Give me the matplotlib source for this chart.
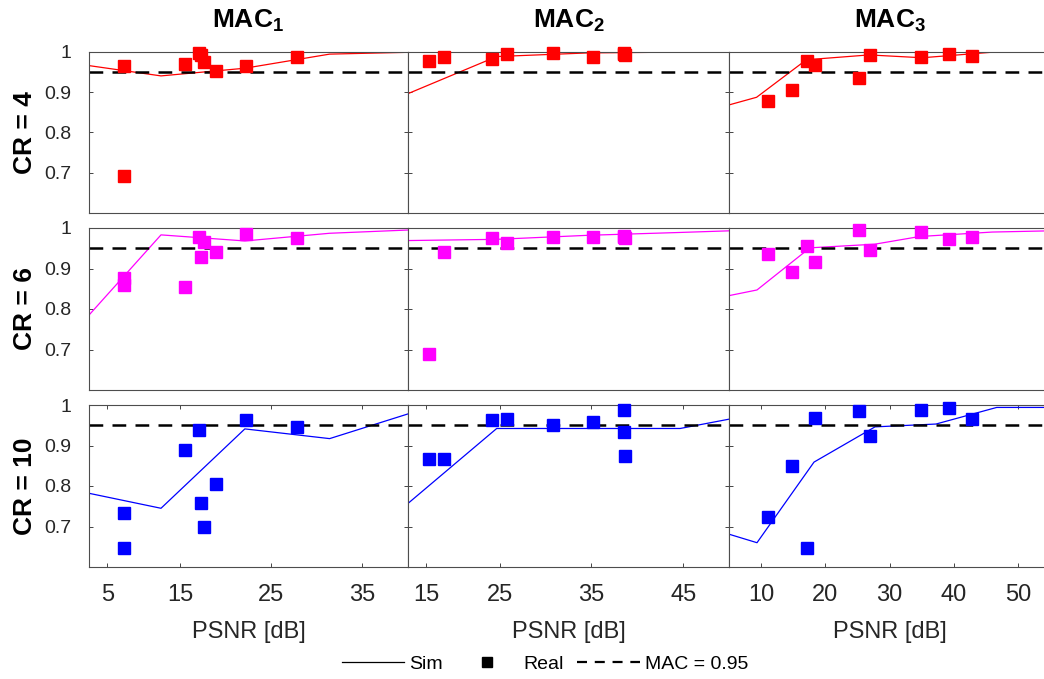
import numpy as np
import matplotlib
matplotlib.use('Agg')
import matplotlib.pyplot as plt
from matplotlib.lines import Line2D

plt.rcParams['font.family'] = ['Liberation Sans', 'DejaVu Sans']
plt.rcParams['mathtext.fontset'] = 'custom'
plt.rcParams['mathtext.rm'] = 'Liberation Sans'
plt.rcParams['mathtext.bf'] = 'Liberation Sans:bold'

# --- data ---
mac_titles = [r'$\mathbf{MAC_1}$', r'$\mathbf{MAC_2}$', r'$\mathbf{MAC_3}$']
cr_labels = ['CR = 4', 'CR = 6', 'CR = 10']
row_colors = ['#ff0000', '#ff00ff', '#0000ff']

xlims = [(5, 40), (15, 50), (5, 55)]
xtick_pos = [[7, 15, 25, 35], [17, 25, 35, 45], [10, 20, 30, 40, 50]]
xtick_lab = [['5', '15', '25', '35'], ['15', '25', '35', '45'],
             ['10', '20', '30', '40', '50']]

# simulated curves
sim_x_mac1 = [5, 12.9, 22.1, 31.4, 40]
sim_cr4_mac1 = [0.9655, 0.940, 0.959, 0.994, 0.9985]
sim_cr6_mac1 = [0.785, 0.983, 0.968, 0.987, 0.995]
sim_cr10_mac1 = [0.782, 0.745, 0.941, 0.917, 0.978]

sim_x_mac2 = [15, 24.67, 34.67, 44.67, 50]
sim_cr4_mac2 = [0.896, 0.988, 0.997, 0.999, 0.999]
sim_cr6_mac2 = [0.969, 0.972, 0.982, 0.989, 0.993]
sim_cr10_mac2 = [0.757, 0.942, 0.942, 0.942, 0.965]

sim_x_cr4_mac3 = [5, 9.3, 17.05, 26.8, 35.1, 46.2, 55]
sim_x_cr6_mac3 = [5, 9.36, 17.6, 27.7, 34.7, 46.0, 55]
sim_x_cr10_mac3 = [5, 9.36, 18.24, 27.74, 37.24, 46.7, 55]
sim_cr4_mac3 = [0.868, 0.887, 0.980, 0.992, 0.985, 0.999, 1.0]
sim_cr6_mac3 = [0.833, 0.847, 0.951, 0.960, 0.979, 0.990, 0.993]
sim_cr10_mac3 = [0.681, 0.660, 0.859, 0.946, 0.953, 0.994, 0.994]

# measured points
real_x_mac1 = [8.84, 8.84, 15.54, 17.07, 17.3, 17.6, 18.9, 22.2, 27.8]
real_cr4_mac1 = [0.965, 0.692, 0.970, 0.996, 0.993, 0.975, 0.952, 0.965, 0.988]
real_cr6_mac1 = [0.877, 0.859, 0.854, 0.979, 0.929, 0.966, 0.940, 0.984, 0.975]
real_cr10_mac1 = [0.733, 0.646, 0.889, 0.938, 0.759, 0.698, 0.805, 0.963, 0.946]

real_x_mac2 = [17.3, 18.9, 24.2, 25.8, 30.85, 35.2, 38.5, 38.6, 38.7]
real_cr4_mac2 = [0.976, 0.988, 0.983, 0.994, 0.998, 0.986, 0.998, 0.994, 0.992]
real_cr6_mac2 = [0.689, 0.941, 0.975, 0.964, 0.977, 0.979, 0.981, 0.978, 0.975]
real_cr10_mac2 = [0.866, 0.867, 0.963, 0.966, 0.951, 0.959, 0.988, 0.934, 0.875]

real_x_mac3 = [11.0, 14.77, 17.1, 18.4, 25.3, 27.0, 34.9, 39.2, 42.8]
real_cr4_mac3 = [0.877, 0.904, 0.977, 0.967, 0.936, 0.992, 0.986, 0.994, 0.989]
real_cr6_mac3 = [0.935, 0.891, 0.956, 0.917, 0.995, 0.946, 0.989, 0.972, 0.979]
real_cr10_mac3 = [0.724, 0.849, 0.648, 0.967, 0.986, 0.923, 0.988, 0.992, 0.965]

mac_threshold = 0.95

sim_x = [[sim_x_mac1] * 3, [sim_x_mac2] * 3,
         [sim_x_cr4_mac3, sim_x_cr6_mac3, sim_x_cr10_mac3]]
sim_y = [[sim_cr4_mac1, sim_cr6_mac1, sim_cr10_mac1],
         [sim_cr4_mac2, sim_cr6_mac2, sim_cr10_mac2],
         [sim_cr4_mac3, sim_cr6_mac3, sim_cr10_mac3]]
real_x = [real_x_mac1, real_x_mac2, real_x_mac3]
real_y = [[real_cr4_mac1, real_cr6_mac1, real_cr10_mac1],
          [real_cr4_mac2, real_cr6_mac2, real_cr10_mac2],
          [real_cr4_mac3, real_cr6_mac3, real_cr10_mac3]]

# --- layout in pixels ---
W, H = 1044, 679
col_px = [(89, 408), (408, 729), (729, 1050)]
row_px = [(51.7, 213), (228, 390), (405, 567)]

fig = plt.figure(figsize=(W / 100, H / 100), dpi=100)
grey = '0.15'

for r in range(3):
    for c in range(3):
        x0, x1 = col_px[c]
        y0, y1 = row_px[r]
        ax = fig.add_axes([x0 / W, 1 - y1 / H, (x1 - x0) / W, (y1 - y0) / H])
        col = row_colors[r]
        ax.plot(sim_x[c][r], sim_y[c][r], color=col, lw=0.9)
        ax.plot(real_x[c], real_y[c][r], 's', color=col, ms=8,
                clip_on=False, zorder=3)
        ax.axhline(mac_threshold, color='k', lw=1.8, ls=(0, (5.5, 3.7)))
        ax.set_xlim(*xlims[c])
        ax.set_ylim(0.6, 1.0)
        ax.set_yticks([0.7, 0.8, 0.9, 1.0])
        if c == 0:
            ax.set_yticklabels(['0.7', '0.8', '0.9', '1'])
            ax.set_ylabel(cr_labels[r], fontsize=19, fontweight='bold',
                          labelpad=5, color='k')
        else:
            ax.set_yticklabels([])
        ax.tick_params(axis='y', direction='in', left=True, right=True,
                       length=3, width=0.6, colors=grey, labelsize=14, pad=13)
        if r == 2:
            ax.set_xticks(xtick_pos[c])
            ax.set_xticklabels(xtick_lab[c])
            ax.tick_params(axis='x', direction='in', top=True, bottom=True,
                           length=3, width=0.6, colors=grey, labelsize=17, pad=12)
            ax.set_xlabel('PSNR [dB]', fontsize=17, color=grey, labelpad=11)
        else:
            ax.set_xticks([])
        if r == 0:
            ax.set_title(mac_titles[c], fontsize=19, pad=17)
        for s in ax.spines.values():
            s.set_color('0.3')
            s.set_linewidth(0.8)

handles = [Line2D([], [], color='k', lw=0.9),
           Line2D([], [], color='k', marker='s', ls='none', ms=7),
           Line2D([], [], color='k', lw=1.6, ls=(0, (4.5, 3.5)))]
fig.legend(handles, ['Sim', 'Real', 'MAC = 0.95'], loc='center',
           bbox_to_anchor=(0.522, 0.022), ncol=3, frameon=False,
           fontsize=14, handlelength=3.2, handletextpad=0.25, columnspacing=0.7)

fig.savefig('out.png', dpi=100)
